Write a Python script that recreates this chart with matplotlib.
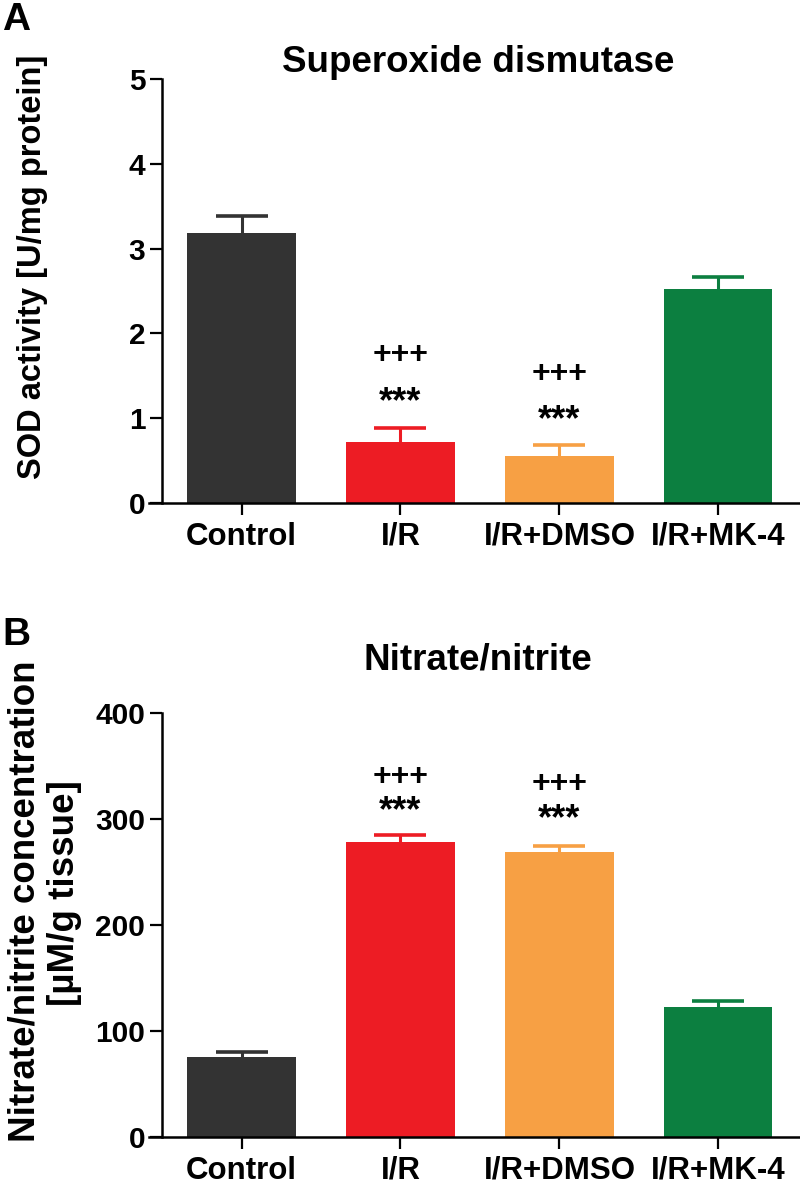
import matplotlib
matplotlib.use('Agg')
import matplotlib.pyplot as plt

plt.rcParams['font.family'] = ['Liberation Sans', 'DejaVu Sans']
plt.rcParams['font.weight'] = 'bold'

groups = ['Control', 'I/R', 'I/R+DMSO', 'I/R+MK-4']
colors = ['#333333', '#ED1C24', '#F7A044', '#0C7F40']

sod_mean = [3.18, 0.72, 0.55, 2.52]
sod_err = [0.21, 0.17, 0.13, 0.14]
sod_plus = [None, 1.75, 1.52, None]
sod_star = [None, 1.18, 0.97, None]

no_mean = [75.5, 278, 269, 123]
no_err = [4.5, 7, 6, 5.5]
no_plus = [None, 340, 333, None]
no_star = [None, 307, 299, None]

W, H = 800, 1185


def px(x, y):
    return x / W, 1 - y / H


def panel(ax, means, errs, plus, star, ymax, yticks):
    x = list(range(len(groups)))
    ax.bar(x, means, width=0.68, color=colors, edgecolor='none', zorder=2)
    for i in x:
        eb = ax.errorbar(i, means[i], yerr=[[0], [errs[i]]], fmt='none',
                         ecolor=colors[i], elinewidth=2.2, capsize=19,
                         capthick=2.6, zorder=1)
        # only keep the upper cap
        eb[1][0].set_visible(False)
        if plus[i] is not None:
            ax.text(i, plus[i], '+++', ha='center', va='center', fontsize=23,
                    fontweight='bold')
            ax.text(i, star[i], '***', ha='center', va='center', fontsize=26,
                    fontweight='bold')
    ax.set_xlim(-0.582, 3.513)
    ax.set_ylim(0, ymax)
    ax.set_yticks(yticks)
    ax.set_xticks(x)
    ax.set_xticklabels(groups)
    for s in ['top', 'right']:
        ax.spines[s].set_visible(False)
    ax.spines['left'].set_position(('data', -0.5))
    ax.spines['left'].set_linewidth(1.8)
    ax.spines['bottom'].set_linewidth(1.8)
    ax.tick_params(axis='both', direction='out', length=8.5, width=1.6)
    ax.tick_params(axis='x', pad=5, labelsize=22.5)
    ax.tick_params(axis='y', labelsize=21.5)
    for lab in ax.get_xticklabels() + ax.get_yticklabels():
        lab.set_fontweight('bold')


fig = plt.figure(figsize=(W / 100, H / 100), dpi=100)

# panel A
l, b = px(149, 503)
_, t = px(149, 79)
axA = fig.add_axes([l, b, 1 - l, t - b])
panel(axA, sod_mean, sod_err, sod_plus, sod_star, 5, [0, 1, 2, 3, 4, 5])

# panel B
l, b = px(149, 1137)
_, t = px(149, 713)
axB = fig.add_axes([l, b, 1 - l, t - b])
panel(axB, no_mean, no_err, no_plus, no_star, 400, [0, 100, 200, 300, 400])

fig.text(*px(478, 62), 'Superoxide dismutase', ha='center', va='center',
         fontsize=26.5, fontweight='bold')
fig.text(*px(478, 660), 'Nitrate/nitrite', ha='center', va='center',
         fontsize=26.5, fontweight='bold')
fig.text(*px(16, 20), 'A', ha='center', va='center', fontsize=28,
         fontweight='bold')
fig.text(*px(16, 635), 'B', ha='center', va='center', fontsize=28,
         fontweight='bold')
fig.text(*px(33, 267), 'SOD activity [U/mg protein]', ha='center',
         va='center', rotation=90, fontsize=23.5, fontweight='bold')
fig.text(*px(25, 901), 'Nitrate/nitrite concentration', ha='center',
         va='center', rotation=90, fontsize=26.5, fontweight='bold')
fig.text(*px(64, 893), '[\u00b5M/g tissue]', ha='center',
         va='center', rotation=90, fontsize=26.5, fontweight='bold')

fig.savefig('out.png', dpi=100)
